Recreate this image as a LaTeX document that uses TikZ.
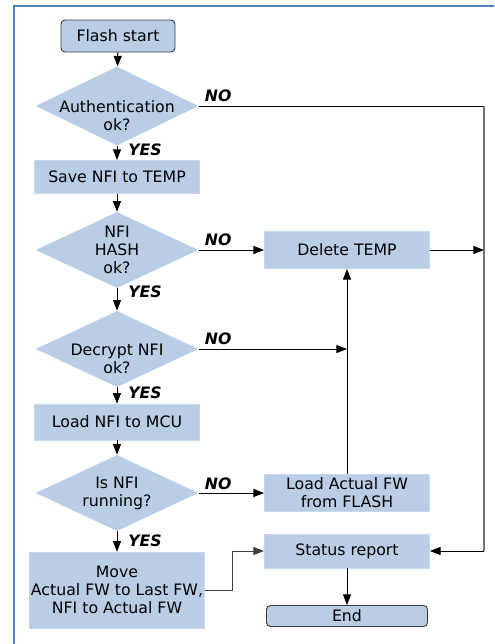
\documentclass[tikz,border=0pt]{standalone}
\usepackage{fontspec}
\setmainfont{DejaVu Sans}
\usepackage{tikz}
\usetikzlibrary{arrows.meta}
\usetikzlibrary{positioning,shapes.geometric,calc}
\definecolor{boxfill}{HTML}{B9CDE5}
\definecolor{boxline}{HTML}{C8D8EC}
\definecolor{framecol}{HTML}{4F81BD}
\tikzset{
    every node/.style={font=\fontsize{11.8}{13.5}\selectfont},
    stepbox/.style={
        rectangle,
        draw=boxline,
        fill=boxfill,
        align=center,
        inner sep=1pt,
        minimum width=124pt,
        minimum height=26pt
    },
    termbox/.style={
        rectangle,
        rounded corners=3pt,
        draw=black!75,
        line width=0.7pt,
        fill=boxfill,
        align=center,
        inner sep=1pt
    },
    decision/.style={
        diamond,
        fill=boxfill,
        align=center,
        inner sep=-16pt,
        minimum width=122pt,
        minimum height=57pt
    },
    answer/.style={
        font=\fontsize{11.8}{13.5}\selectfont\bfseries\itshape,
        anchor=west,
        inner sep=0pt
    },
    flow/.style={
        draw,
        line width=0.75pt,
        -{Triangle[length=8pt, width=6pt]}
    }
}

\begin{document}
\begin{tikzpicture}[x=0.75pt, y=-0.75pt]
    \useasboundingbox (0,0) rectangle (494,644);
    % Frame
    \draw[framecol, line width=1.5pt] (494,6) -- (14,6) -- (14,644);

    % Left column
    \node[termbox, minimum width=85.5pt, minimum height=24pt] (start) at (118,36) {Flash start};
    \node[decision] (auth) at (117,106) {\strut\\Authentication\\ok?};
    \node[stepbox, minimum height=25pt] (save) at (117,177) {Save NFI to TEMP};
    \node[decision] (hash) at (117,250) {NFI\\HASH\\ok?};
    \node[decision] (decr) at (117,349) {\strut\\Decrypt NFI\\ok?};
    \node[stepbox, minimum height=27pt] (loadmcu) at (117,422) {Load NFI to MCU};
    \node[decision] (run) at (117,493) {Is NFI\\running?};
    \node[stepbox, minimum width=129pt, minimum height=57pt] (move) at (117,590) {Move\\Actual FW to Last FW,\\NFI to Actual FW};

    % Right column
    \node[stepbox, minimum height=28pt] (del) at (347,250) {Delete TEMP};
    \node[stepbox, minimum height=28pt] (loadfw) at (347,493) {Load Actual FW\\from FLASH};
    \node[stepbox, minimum height=25.5pt] (status) at (347,551) {Status report};
    \node[termbox, minimum width=120.75pt, minimum height=15.75pt] (endn) at (347,616) {End};
    \coordinate (rail) at (484,106);
    \coordinate (bend) at (232,590);

    % Main flow
    \draw[flow] (start) -- (auth);
    \draw[flow] (auth) -- (save);
    \draw[flow] (save) -- (hash);
    \draw[flow] (hash) -- (decr);
    \draw[flow] (decr) -- (loadmcu);
    \draw[flow] (loadmcu) -- (run);
    \draw[flow] (run) -- (move);

    % Failure branches
    \draw[line width=0.75pt] (auth.east) -- (rail);
    \draw[black!55, line width=1.2pt] (rail) -- (rail |- status.east);
    \draw[flow] (rail |- status.east) -- (status.east);
    \draw[flow] (hash.east) -- (del.west);
    \draw[flow] (del.east) -- (del.east -| rail);
    \draw[flow] (decr.east) -- (decr.east -| del.south);
    \draw[flow] (run.east) -- (loadfw.west);
    \draw[flow] (loadfw.north) -- (del.south);
    \draw[flow, draw=black!75] (move.east) -- (bend) |- (status.west);
    \draw[flow] (status) -- (endn);

    % Answers
    \node[answer] at ($(auth.east)+(6,-10)$) {NO};
    \node[answer] at ($(hash.east)+(6,-10)$) {NO};
    \node[answer] at ($(decr.east)+(6,-10)$) {NO};
    \node[answer] at ($(run.east)+(6,-9)$) {NO};
    \node[answer] at ($(auth.south)+(11,4)$) {YES};
    \node[answer] at ($(hash.south)+(11,3)$) {YES};
    \node[answer] at ($(decr.south)+(11,5)$) {YES};
    \node[answer] at ($(run.south)+(11,9)$) {YES};
\end{tikzpicture}
\end{document}
